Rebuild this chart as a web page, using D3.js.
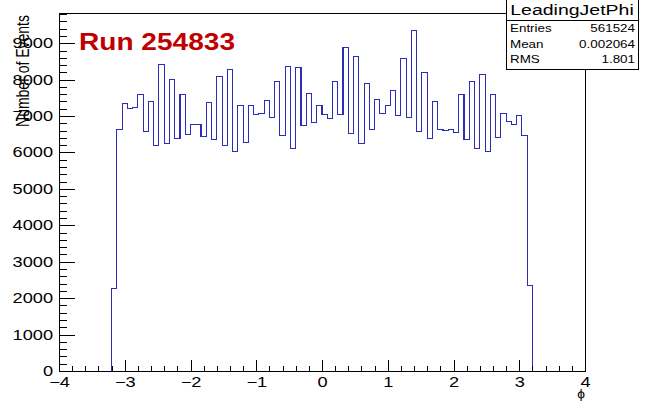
<!DOCTYPE html>
<html>
<head>
<meta charset="utf-8">
<script src="https://cdn.jsdelivr.net/npm/d3@7"></script>
<style>
  html, body { margin: 0; padding: 0; background: #fff; }
  svg { display: block; }
  text { font-family: "Liberation Sans", Arial, Helvetica, sans-serif; }
</style>
</head>
<body>
<svg id="chart" width="646" height="401"></svg>
<script>
// LeadingJetPhi: 80 bins of width 0.08 from -3.2 to 3.2
const binLow = -3.2;
const binWidth = 0.08;
const counts = [
  2270, 6620, 7354, 7198, 7234, 7601, 6575, 7399, 6190, 8407,
  6236, 7995, 6392, 7582, 6502, 6777, 6777, 6437, 7381, 6365,
  8086, 6190, 8269, 6025, 7289, 6283, 7289, 7033, 7079, 7418,
  6969, 7948, 6456, 8361, 6117, 8333, 6731, 7628, 6832, 7298,
  7051, 6923, 7948, 7033, 8883, 6520, 8626, 6255, 7903, 6640,
  7445, 7079, 7280, 7692, 7005, 8590, 6969, 9359, 6584, 8196,
  6392, 7408, 6630, 6593, 6630, 6557, 7601, 6346, 7948, 6099,
  8150, 6025, 7601, 6410, 7070, 6850, 6777, 7005, 6456, 2340
];

const xTicks = [-4, -3, -2, -1, 0, 1, 2, 3, 4];
const yTicks = [0, 1000, 2000, 3000, 4000, 5000, 6000, 7000, 8000, 9000];

const statsTitle = "LeadingJetPhi";
const statsLabels = ["Entries", "Mean", "RMS"];
const statsValues = ["561524", "0.002064", "1.801"];

const runLabel = "Run 254833";
const xTitle = "\u03D5";
const yTitle = "Number of Events";

// frame geometry
const L = 59, R = 585, T = 13, B = 371;
const SX = 1.3; // horizontal text stretch of the canvas

const svg = d3.select("#chart");

const x = d3.scaleLinear().domain([-4, 4]).range([L, R]);
const y = d3.scaleLinear().domain([0, 9830]).range([B, T]);

// histogram outline as a step path
const pts = [[binLow, 0]];
counts.forEach((c, i) => {
  pts.push([binLow + i * binWidth, c]);
  pts.push([binLow + (i + 1) * binWidth, c]);
});
pts.push([binLow + counts.length * binWidth, 0]);

const line = d3.line().x(d => x(d[0])).y(d => y(d[1]));
svg.append("path")
  .attr("d", line(pts))
  .attr("fill", "none")
  .attr("stroke", "#2d2db8")
  .attr("stroke-width", 1.1)
  .attr("shape-rendering", "crispEdges");

// axes: major and minor ticks point inward
const minorX = d3.range(-4, 4.0001, 0.2).map(v => +v.toFixed(2));
const minorY = d3.range(0, 9801, 200);

const gxMinor = svg.append("g").attr("transform", `translate(0,${B})`)
  .call(d3.axisBottom(x).tickValues(minorX).tickSize(-5.5).tickFormat(""));
const gx = svg.append("g").attr("transform", `translate(0,${B})`)
  .call(d3.axisBottom(x).tickValues(xTicks).tickSize(-11).tickPadding(6)
    .tickFormat(d3.format("d")));

const gyMinor = svg.append("g").attr("transform", `translate(${L},0)`)
  .call(d3.axisLeft(y).tickValues(minorY).tickSize(-8).tickFormat(""));
const gy = svg.append("g").attr("transform", `translate(${L},0)`)
  .call(d3.axisLeft(y).tickValues(yTicks).tickSize(-15.8).tickPadding(6)
    .tickFormat(d3.format("d")));

[gxMinor, gx, gyMinor, gy].forEach(g => {
  g.select(".domain").remove();
  g.selectAll("line").attr("stroke", "#000").attr("shape-rendering", "crispEdges");
});

gx.selectAll("text")
  .attr("font-size", 14)
  .attr("fill", "#000")
  .attr("transform", `scale(${SX},1)`);
gy.selectAll("text")
  .attr("font-size", 14)
  .attr("fill", "#000")
  .attr("x", -6 / SX)
  .attr("transform", `scale(${SX},1)`);

// frame
svg.append("rect")
  .attr("x", L).attr("y", T).attr("width", R - L).attr("height", B - T)
  .attr("fill", "none").attr("stroke", "#000").attr("stroke-width", 1)
  .attr("shape-rendering", "crispEdges");

// axis titles
svg.append("text")
  .attr("transform", `translate(29,15) scale(${SX},1) rotate(-90)`)
  .attr("text-anchor", "end")
  .attr("font-size", 14)
  .attr("fill", "#000")
  .text(yTitle);

svg.append("text")
  .attr("transform", `translate(585,398) scale(1.15,1)`)
  .attr("text-anchor", "end")
  .attr("font-size", 12)
  .attr("fill", "#000")
  .text(xTitle);

// run label
svg.append("text")
  .attr("x", 79).attr("y", 50)
  .attr("font-family", "'Open Sans', 'Liberation Sans', sans-serif")
  .attr("font-weight", 700)
  .attr("font-size", 23)
  .attr("textLength", 156)
  .attr("lengthAdjust", "spacingAndGlyphs")
  .attr("fill", "#c00000")
  .text(runLabel);

// statistics box
const sb = { x: 506, y: -1, w: 132, h: 70 };
const stats = svg.append("g");
stats.append("rect")
  .attr("x", sb.x).attr("y", sb.y).attr("width", sb.w).attr("height", sb.h)
  .attr("fill", "#fff").attr("stroke", "#000").attr("shape-rendering", "crispEdges");
stats.append("line")
  .attr("x1", sb.x).attr("x2", sb.x + sb.w).attr("y1", 20.5).attr("y2", 20.5)
  .attr("stroke", "#000").attr("shape-rendering", "crispEdges");
stats.append("text")
  .attr("transform", `translate(${sb.x + sb.w / 2},15) scale(${SX},1)`)
  .attr("text-anchor", "middle")
  .attr("font-size", 15)
  .attr("fill", "#000")
  .text(statsTitle);

const rowY = [31.5, 47.5, 63];
statsLabels.forEach((lab, i) => {
  stats.append("text")
    .attr("transform", `translate(${sb.x + 4},${rowY[i]}) scale(1.22,1)`)
    .attr("font-size", 11)
    .attr("fill", "#000")
    .text(lab);
  stats.append("text")
    .attr("transform", `translate(${sb.x + sb.w - 3},${rowY[i]}) scale(1.22,1)`)
    .attr("text-anchor", "end")
    .attr("font-size", 11)
    .attr("fill", "#000")
    .text(statsValues[i]);
});
</script>
</body>
</html>
